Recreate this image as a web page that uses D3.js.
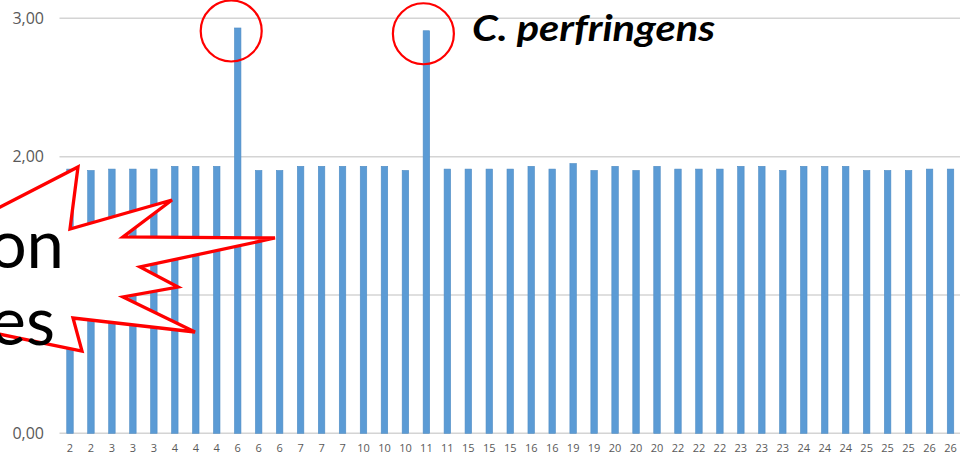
<!DOCTYPE html>
<html>
<head>
<meta charset="utf-8">
<script src="https://cdn.jsdelivr.net/npm/d3@7"></script>
<style>
  body { margin: 0; background: #fff; }
  svg { display: block; }
</style>
</head>
<body>
<script>
// x categories (as printed under each bar)
var categories = ["2","2","3","3","3","4","4","4","6","6","6","7","7","7","10","10","10","11","11",
  "15","15","15","16","16","19","19","20","20","20","22","22","22","23","23","23","24","24","24",
  "25","25","25","26","26"];

// bar heights
var values = [1.91,1.90,1.91,1.91,1.91,1.93,1.93,1.93,2.93,1.90,1.90,1.93,1.93,1.93,1.93,1.93,1.90,
  2.91,1.91,1.91,1.91,1.91,1.93,1.91,1.95,1.90,1.93,1.90,1.93,1.91,1.91,1.91,1.93,1.93,1.90,1.93,
  1.93,1.93,1.90,1.90,1.90,1.91,1.91];

var yTicks = [0, 1, 2, 3];
// the 1,00 label sits under the callout in the picture
var yLabels = [0, 2, 3];

// bars that get a red circle
var circled = [8, 17];

var width = 960, height = 466;

var svg = d3.select("body")
  .append("svg")
    .attr("width", width)
    .attr("height", height);

var xScale = d3.scaleBand()
  .domain(d3.range(categories.length))
  .range([59.5, 961])
  .paddingInner(0.69)
  .paddingOuter(0.345);

var yScale = d3.scaleLinear()
  .domain([0, 3])
  .range([433.3, 18.3]);

// gridlines
svg.append("g")
  .selectAll("line")
  .data(yTicks)
  .enter()
    .append("line")
      .attr("x1", 59.5)
      .attr("x2", width)
      .attr("y1", function(d) { return yScale(d); })
      .attr("y2", function(d) { return yScale(d); })
      .attr("stroke", "#d4d4d4")
      .attr("stroke-width", 1.5);

// y axis labels
var yAxis = d3.axisLeft(yScale)
  .tickValues(yLabels)
  .tickSize(0)
  .tickPadding(0)
  .tickFormat(function(d) { return d3.format(".2f")(d).replace(".", ","); });

svg.append("g")
  .attr("transform", "translate(44,0)")
  .call(yAxis)
  .call(function(g) { g.select(".domain").remove(); })
  .selectAll("text")
    .attr("font-family", "'Open Sans', sans-serif")
    .attr("font-size", 16)
    .attr("fill", "#595959");

// bars
svg.append("g")
  .selectAll("rect")
  .data(values)
  .enter()
    .append("rect")
      .attr("x", function(d, i) { return xScale(i); })
      .attr("width", xScale.bandwidth())
      .attr("y", function(d) { return yScale(d); })
      .attr("height", function(d) { return yScale(0) - yScale(d); })
      .attr("fill", "#5b9bd5")
      .attr("stroke", "#4f8cc4")
      .attr("stroke-width", 0.6);

// x axis labels
var xAxis = d3.axisBottom(xScale)
  .tickSize(0)
  .tickPadding(0)
  .tickFormat(function(i) { return categories[i]; });

svg.append("g")
  .attr("transform", "translate(0,444)")
  .call(xAxis)
  .call(function(g) { g.select(".domain").remove(); })
  .selectAll("text")
    .attr("font-family", "'Open Sans', sans-serif")
    .attr("font-size", 11)
    .attr("fill", "#595959");

// red circles around the two tall bars
svg.append("g")
  .selectAll("circle")
  .data(circled)
  .enter()
    .append("circle")
      .attr("cx", function(i) { return xScale(i) + xScale.bandwidth() / 2 - (i == 8 ? 6.5 : 3); })
      .attr("cy", function(i) { return yScale(values[i]) + 3; })
      .attr("r", 30.5)
      .attr("fill", "none")
      .attr("stroke", "#ff0000")
      .attr("stroke-width", 2.2);

svg.append("text")
  .attr("x", 472)
  .attr("y", 41)
  .attr("font-family", "Lato, sans-serif")
  .attr("font-weight", "bold")
  .attr("font-style", "italic")
  .attr("font-size", 36)
  .attr("textLength", 243)
  .attr("lengthAdjust", "spacingAndGlyphs")
  .attr("fill", "#000")
  .text("C. perfringens");

// callout burst cut off at the left edge
var burst = [[-60,238],[78,167],[70,229],[172,200],[123,237],[275,238],[140,267],[178,287],
  [123,297],[195,332],[73,318],[82,351],[-60,322]];

svg.append("path")
  .attr("d", d3.line()(burst) + "Z")
  .attr("fill", "#ffffff")
  .attr("stroke", "#ff0000")
  .attr("stroke-width", 3.3)
  .attr("stroke-linejoin", "miter");

svg.append("text")
  .attr("x", 64)
  .attr("y", 268)
  .attr("text-anchor", "end")
  .attr("font-family", "Lato, sans-serif")
  .attr("font-size", 67)
  .attr("fill", "#000")
  .text("on");

svg.append("text")
  .attr("x", 55)
  .attr("y", 345)
  .attr("text-anchor", "end")
  .attr("font-family", "Lato, sans-serif")
  .attr("font-size", 67)
  .attr("fill", "#000")
  .text("es");
</script>
</body>
</html>
